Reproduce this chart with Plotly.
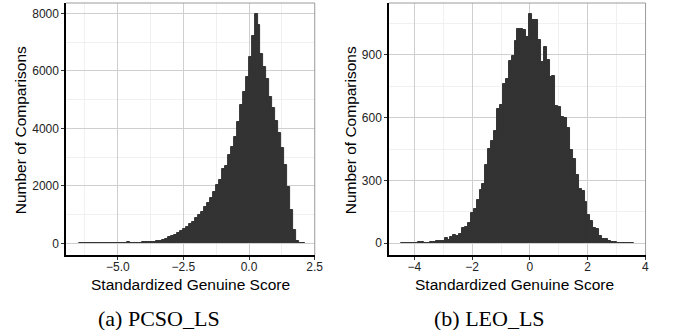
import plotly.graph_objects as go

# ---------------- data ----------------
# (a) PCSO_LS histogram: first bin edge, bin width, counts (left -> right)
pcso_first_edge = -6.47
pcso_bin_width = 0.1133
pcso_counts = [
    5, 6, 8, 8, 10, 10, 12, 12, 10, 12, 14, 12, 15, 14, 12, 12,
    46,
    12, 14, 15, 18,
    40, 44, 46, 48, 52,
    75, 85, 116, 151, 209, 255, 290, 360, 420, 498, 580, 673, 754, 870,
    986, 1101, 1252, 1414, 1577, 1797, 2029, 2203, 2574, 2701, 3071, 3360,
    3708, 4208, 4800, 5262, 5773, 6490, 7210, 7975,
    7593, 6584, 6143, 5704, 5100, 4695, 4254, 3848, 3315, 2713, 1970, 1159,
    463, 93, 23, 5,
]

# (b) LEO_LS histogram
leo_first_edge = -4.47
leo_bin_width = 0.101
leo_counts = [
    2, 2, 2, 2, 2, 3, 5, 4, 2, 3,
    5, 6, 10, 11, 12, 24, 16, 30, 38, 35,
    45, 72, 76, 96, 146, 164, 207, 252, 282, 374,
    450, 489, 537, 640, 661, 762, 785, 871, 892, 968,
    1022, 1022, 1019, 987, 1096, 1067, 1067, 971, 863, 936,
    876, 793, 799, 656, 650, 605, 600, 549, 446, 401,
    326, 258, 250, 199, 135, 108, 72, 70, 35, 22,
    20, 13, 8, 5, 3, 2, 2, 2, 2, 2,
]

pcso_xticks = [-5.0, -2.5, 0.0, 2.5]
pcso_xminor = [-6.25, -3.75, -1.25, 1.25]
pcso_yticks = [0, 2000, 4000, 6000, 8000]
pcso_yminor = [1000, 3000, 5000, 7000]

leo_xticks = [-4, -2, 0, 2, 4]
leo_xminor = [-3, -1, 1, 3]
leo_yticks = [0, 300, 600, 900]
leo_yminor = [150, 450, 750, 1050]

x_title = "Standardized Genuine Score"
y_title = "Number of Comparisons"
captions = ["(a) PCSO_LS", "(b) LEO_LS"]

# ---------------- figure ----------------
W, H = 675, 330
BAR = "#333333"
SANS = "Liberation Sans, Arial, Helvetica, sans-serif"
SERIF = "Liberation Serif, Times New Roman, serif"


def centers(first, w, n):
    return [first + (i + 0.5) * w for i in range(n)]


fig = go.Figure()
fig.add_trace(go.Bar(
    x=centers(pcso_first_edge, pcso_bin_width, len(pcso_counts)),
    y=pcso_counts, width=pcso_bin_width,
    marker=dict(color=BAR, line=dict(color=BAR, width=1)),
    xaxis="x", yaxis="y", showlegend=False, hoverinfo="x+y"))
fig.add_trace(go.Bar(
    x=centers(leo_first_edge, leo_bin_width, len(leo_counts)),
    y=leo_counts, width=leo_bin_width,
    marker=dict(color=BAR, line=dict(color=BAR, width=1)),
    xaxis="x2", yaxis="y2", showlegend=False, hoverinfo="x+y"))

# pixel geometry of the two panels
L1, R1 = 67, 319
L2, R2 = 394.3, 654.3
T, B = 3, 255


def px(x):
    return x / W


def py(y):
    return 1 - y / H


grid_major = "#cfcfcf"
grid_minor = "#f0f0f0"


def xaxis(domain, rng, ticks, minor, fmt, anchor):
    return dict(domain=domain, range=rng, tickvals=ticks, tickformat=fmt,
                showgrid=True, gridcolor=grid_major, gridwidth=1.1,
                minor=dict(tickvals=minor, showgrid=True, gridcolor=grid_minor,
                           gridwidth=0.8, ticks=""),
                showline=True, linecolor="#000000", linewidth=1.6,
                ticks="outside", ticklen=3, tickwidth=1, tickcolor="#333333",
                ticklabelstandoff=-3,
                tickfont=dict(family=SANS, size=12, color="#222222"),
                zeroline=False, anchor=anchor, fixedrange=True)


def yaxis(domain, rng, ticks, minor, anchor):
    return dict(domain=domain, range=rng, tickvals=ticks,
                showgrid=True, gridcolor=grid_major, gridwidth=1.1,
                minor=dict(tickvals=minor, showgrid=True, gridcolor=grid_minor,
                           gridwidth=0.8, ticks=""),
                showline=True, linecolor="#000000", linewidth=1.6,
                ticks="outside", ticklen=3, tickwidth=1, tickcolor="#333333",
                tickfont=dict(family=SANS, size=12, color="#222222"),
                zeroline=False, anchor=anchor, fixedrange=True)


fig.update_layout(
    width=W, height=H,
    margin=dict(l=0, r=0, t=0, b=0),
    paper_bgcolor="white", plot_bgcolor="white",
    xaxis=xaxis([px(L1), px(R1)], [-6.97, 2.505], pcso_xticks, pcso_xminor, ".1f", "y"),
    yaxis=yaxis([py(B), py(T)], [-407, 8360], pcso_yticks, pcso_yminor, "x"),
    xaxis2=xaxis([px(L2), px(R2)], [-4.88, 4.005], leo_xticks, leo_xminor, "d", "y2"),
    yaxis2=yaxis([py(B), py(T)], [-56, 1147], leo_yticks, leo_yminor, "x2"),
    bargap=0,
    shapes=[
        dict(type="line", xref="paper", yref="paper", x0=px(L1), x1=px(R1),
             y0=py(T), y1=py(T), line=dict(color="#9a9a9a", width=1)),
        dict(type="line", xref="paper", yref="paper", x0=px(R1), x1=px(R1),
             y0=py(T), y1=py(B), line=dict(color="#9a9a9a", width=1)),
        dict(type="line", xref="paper", yref="paper", x0=px(L2), x1=px(R2),
             y0=py(T), y1=py(T), line=dict(color="#9a9a9a", width=1)),
        dict(type="line", xref="paper", yref="paper", x0=px(R2), x1=px(R2),
             y0=py(T), y1=py(B), line=dict(color="#9a9a9a", width=1)),
    ],
)

ann = []
for cx in [(L1 + R1) / 2, 521]:
    ann.append(dict(text=x_title, x=px(cx), y=py(284), xref="paper", yref="paper",
                    showarrow=False, xanchor="center", yanchor="middle",
                    font=dict(family=SANS, size=15.5, color="#000000")))
for cx in [20.5, 355]:
    ann.append(dict(text=y_title, x=px(cx), y=py(130), xref="paper", yref="paper",
                    showarrow=False, xanchor="center", yanchor="middle", textangle=-90,
                    font=dict(family=SANS, size=15.5, color="#000000")))
for cx, cap in zip([161.5, 496.4], captions):
    ann.append(dict(text=cap, x=px(cx), y=py(318), xref="paper", yref="paper",
                    showarrow=False, xanchor="center", yanchor="middle",
                    font=dict(family=SERIF, size=22, color="#000000")))
fig.update_layout(annotations=ann)

fig.write_html("out.html", config={"displayModeBar": False})
